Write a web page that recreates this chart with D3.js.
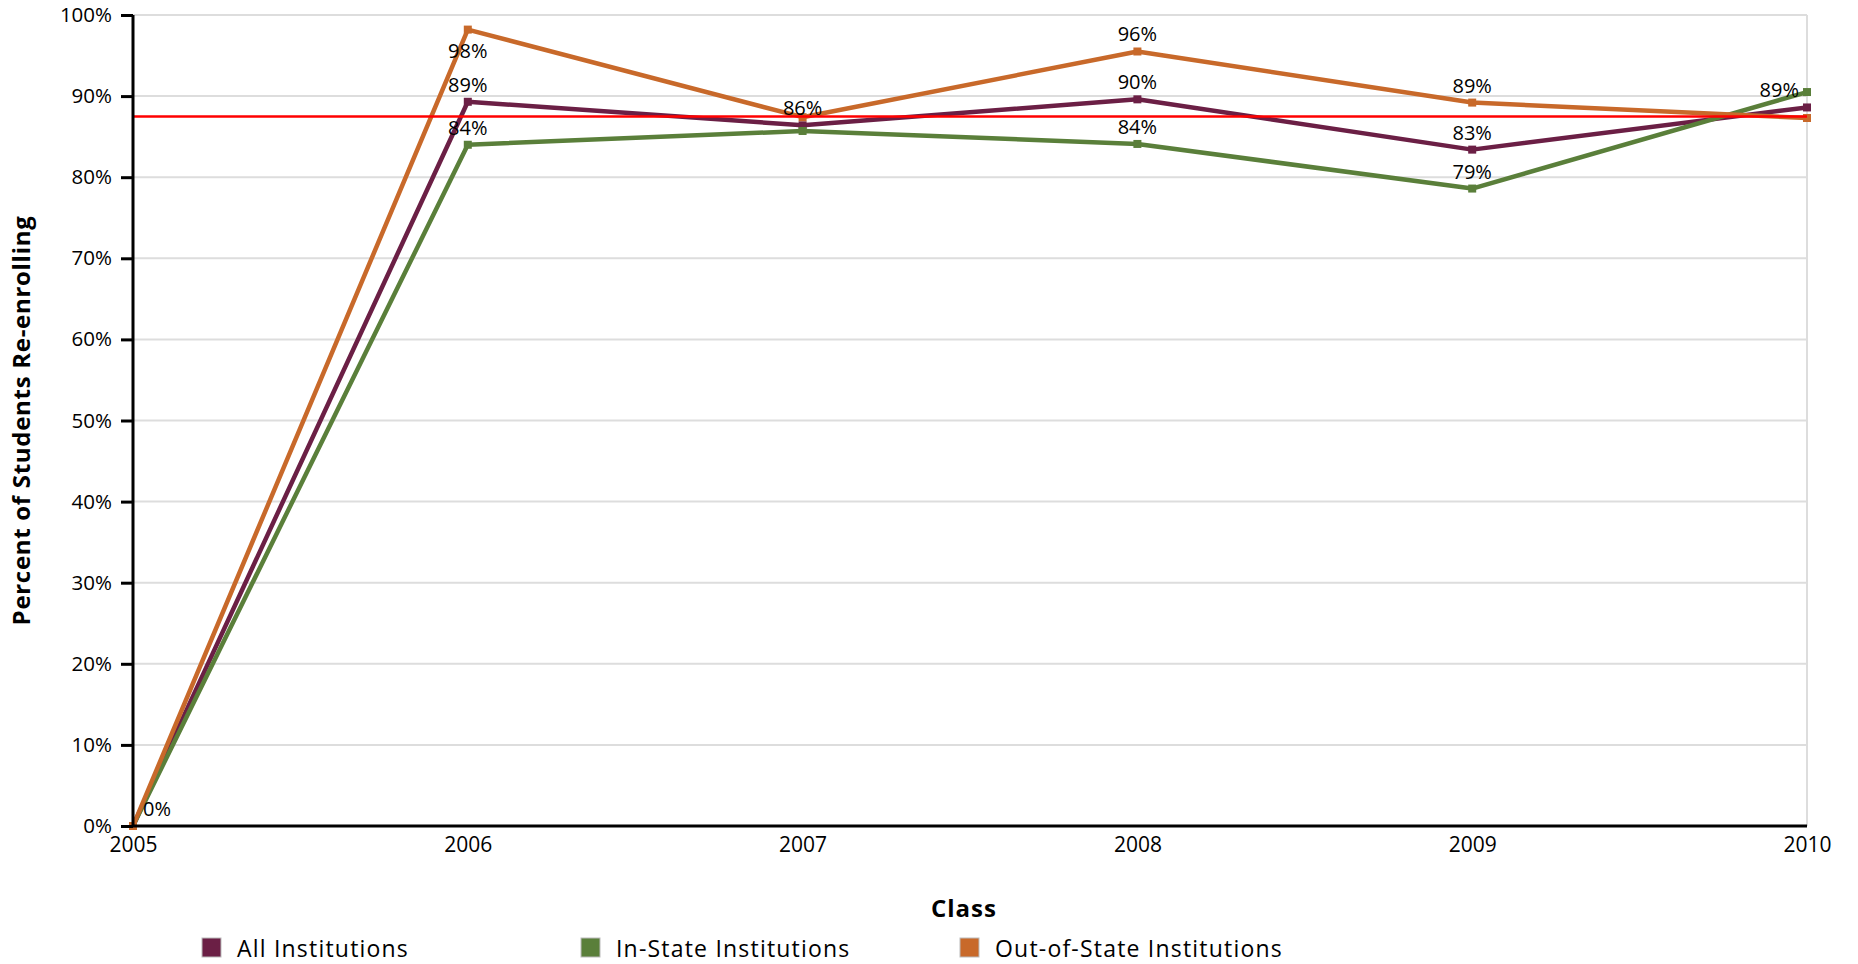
<!DOCTYPE html>
<html>
<head>
<meta charset="utf-8">
<script src="https://cdn.jsdelivr.net/npm/d3@7"></script>
<style>
  html, body { margin: 0; padding: 0; background: #fff; }
  svg { display: block; font-family: "Open Sans", "Liberation Sans", sans-serif; }
</style>
</head>
<body>
<svg id="chart" width="1858" height="964"></svg>
<script>
// ---- data ----
const classes = ["2005", "2006", "2007", "2008", "2009", "2010"];
const seriesNames = ["All Institutions", "In-State Institutions", "Out-of-State Institutions"];
const allInstitutions = [0, 89.3, 86.4, 89.6, 83.4, 88.6];
const inStateInstitutions = [0, 84.0, 85.7, 84.1, 78.6, 90.5];
const outOfStateInstitutions = [0, 98.2, 87.4, 95.5, 89.2, 87.3];
const referenceLine = 87.5;
const yTicks = [0, 10, 20, 30, 40, 50, 60, 70, 80, 90, 100];
const colors = ["#6b1f45", "#5a7f3a", "#c8692a"];

const seriesValues = [allInstitutions, inStateInstitutions, outOfStateInstitutions];

// ---- layout ----
const svg = d3.select("#chart");
const plotLeft = 133, plotRight = 1807, plotTop = 15, plotBottom = 826;

const x = d3.scalePoint().domain(classes).range([plotLeft, plotRight]);
const y = d3.scaleLinear().domain([0, 100]).range([plotBottom, plotTop]);

// gridlines
svg.append("g").selectAll("line")
  .data(yTicks.filter(d => d > 0))
  .join("line")
  .attr("x1", plotLeft).attr("x2", plotRight)
  .attr("y1", d => y(d)).attr("y2", d => y(d))
  .attr("stroke", "#dddddd").attr("stroke-width", 2);

// right border
svg.append("line")
  .attr("x1", plotRight).attr("x2", plotRight)
  .attr("y1", plotTop).attr("y2", plotBottom)
  .attr("stroke", "#dddddd").attr("stroke-width", 2);

// series lines
const line = d3.line().x((d, i) => x(classes[i])).y(d => y(d));
seriesValues.forEach((vals, s) => {
  svg.append("path")
    .datum(vals)
    .attr("d", line)
    .attr("fill", "none")
    .attr("stroke", colors[s])
    .attr("stroke-width", 4.5)
    .attr("stroke-linejoin", "round");
  svg.append("g").selectAll("rect")
    .data(vals)
    .join("rect")
    .attr("x", (d, i) => x(classes[i]) - 4)
    .attr("y", d => y(d) - 4)
    .attr("width", 8).attr("height", 8)
    .attr("fill", colors[s]);
});

// reference line
svg.append("line")
  .attr("x1", plotLeft).attr("x2", plotRight)
  .attr("y1", y(referenceLine)).attr("y2", y(referenceLine))
  .attr("stroke", "#ff0000").attr("stroke-width", 2.5);

// axes
const yAxis = d3.axisLeft(y).tickValues(yTicks).tickFormat(d => d + "%").tickSize(12).tickPadding(9);
const gy = svg.append("g").attr("transform", `translate(${plotLeft},0)`).call(yAxis);
gy.select(".domain").attr("stroke", "#000").attr("stroke-width", 3).attr("d", `M0,${plotTop}V${plotBottom}`);
gy.selectAll(".tick line").attr("stroke", "#000").attr("stroke-width", 3);
gy.selectAll(".tick text").attr("font-size", 20.5).attr("fill", "#000")
  .attr("font-family", "'Open Sans', sans-serif");

const xAxis = d3.axisBottom(x).tickSize(0).tickPadding(11);
const gx = svg.append("g").attr("transform", `translate(0,${plotBottom})`).call(xAxis);
gx.select(".domain").attr("stroke", "#000").attr("stroke-width", 3).attr("d", `M${plotLeft},0H${plotRight}`);
gx.selectAll(".tick text").attr("font-size", 21).attr("fill", "#000")
  .attr("font-family", "'Open Sans', sans-serif");

// data labels with simple collision avoidance
const labelsG = svg.append("g").attr("font-size", 20).attr("fill", "#000");
const placed = classes.map(() => []);
seriesValues.forEach((vals, s) => {
  vals.forEach((v, i) => {
    const px = x(classes[i]), py = y(v);
    let baseline = py - 10;
    if (baseline - 15 < plotTop + 2) baseline = py + 28;
    const t = labelsG.append("text")
      .attr("text-anchor", "middle")
      .attr("x", px).attr("y", baseline)
      .text(Math.round(v) + "%");
    const w = t.node().getComputedTextLength();
    let cx = px;
    if (cx - w / 2 < plotLeft + 10) cx = plotLeft + 10 + w / 2;
    if (cx + w / 2 > plotRight - 8) cx = plotRight - 8 - w / 2;
    t.attr("x", cx);
    const box = { x0: cx - w / 2, x1: cx + w / 2, y0: baseline - 15 - 2, y1: baseline + 2 };
    const hit = placed[i].some(b => !(box.x1 < b.x0 || box.x0 > b.x1 || box.y1 < b.y0 || box.y0 > b.y1));
    if (hit) t.remove(); else placed[i].push(box);
  });
});

// axis titles
svg.append("text")
  .attr("x", (plotLeft + plotRight) / 2 - 6).attr("y", 917)
  .attr("text-anchor", "middle")
  .attr("font-size", 24).attr("font-weight", "bold").attr("fill", "#000")
  .attr("letter-spacing", 1)
  .text("Class");

svg.append("text")
  .attr("transform", `translate(29.5,${(plotTop + plotBottom) / 2}) rotate(-90)`)
  .attr("text-anchor", "middle")
  .attr("font-size", 24).attr("font-weight", "bold").attr("fill", "#000")
  .attr("letter-spacing", 0.7)
  .text("Percent of Students Re-enrolling");

// legend
const legend = svg.append("g");
seriesNames.forEach((name, s) => {
  const lx = 202 + s * 379;
  legend.append("rect")
    .attr("x", lx).attr("y", 938).attr("width", 19).attr("height", 19)
    .attr("fill", colors[s]).attr("stroke", "#bbbbbb").attr("stroke-width", 1);
  legend.append("text")
    .attr("x", lx + 35).attr("y", 957)
    .attr("font-size", 23).attr("fill", "#000")
    .attr("letter-spacing", 1.2)
    .text(name);
});
</script>
</body>
</html>
